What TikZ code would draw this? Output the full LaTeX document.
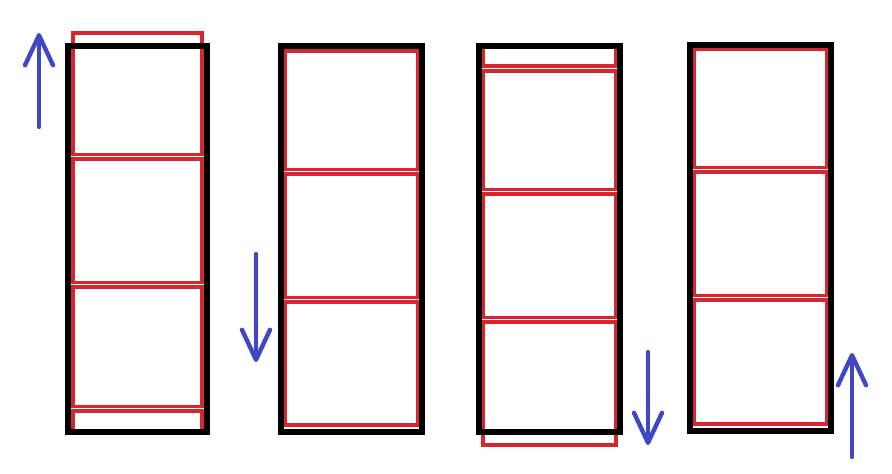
\documentclass[tikz,border=0pt]{standalone}
\usetikzlibrary{arrows.meta}
\definecolor{cellred}{HTML}{D8262F}
\definecolor{moveblue}{HTML}{3F47C4}
\begin{document}
\begin{tikzpicture}[x=1pt,y=-1pt,
  cell/.style={draw=cellred,line width=4.6pt,preaction={draw=white,line width=6.4pt}},
  frame/.style={draw=black,line width=6pt},
  move/.style={moveblue,line width=4.4pt,line cap=round,-{Straight Barb[length=30pt,width=28pt,round]}}]
\useasboundingbox (0,0) rectangle (892,474);

% first column, strip moved up
\draw[cell] (73,33) rectangle (202,155);
\draw[cell] (73,159) rectangle (202,283);
\draw[cell] (73,287) rectangle (202,407);
\draw[cell] (73,411) rectangle (202,433);
\draw[frame] (68,46) rectangle (207,432);
\draw[move] (39,127)--(39,33);

% second column
\draw[cell] (285,51) rectangle (418,170);
\draw[cell] (285,174) rectangle (418,298);
\draw[cell] (285,302) rectangle (418,425);
\draw[frame] (281,46) rectangle (422,432);
\draw[move] (256,254)--(256,362);

% third column, strip moved down
\draw[cell] (483,45) rectangle (616,66);
\draw[cell] (483,71) rectangle (616,190);
\draw[cell] (483,194) rectangle (616,318);
\draw[cell] (483,322) rectangle (616,445);
\draw[frame] (479,46) rectangle (620,432);
\draw[move] (648,352)--(648,445);

% fourth column
\draw[cell] (694,49) rectangle (827,168);
\draw[cell] (694,172) rectangle (827,296);
\draw[cell] (694,300) rectangle (827,424);
\draw[frame] (690,45) rectangle (831,431);
\draw[move] (852,457)--(852,353);

\end{tikzpicture}
\end{document}
